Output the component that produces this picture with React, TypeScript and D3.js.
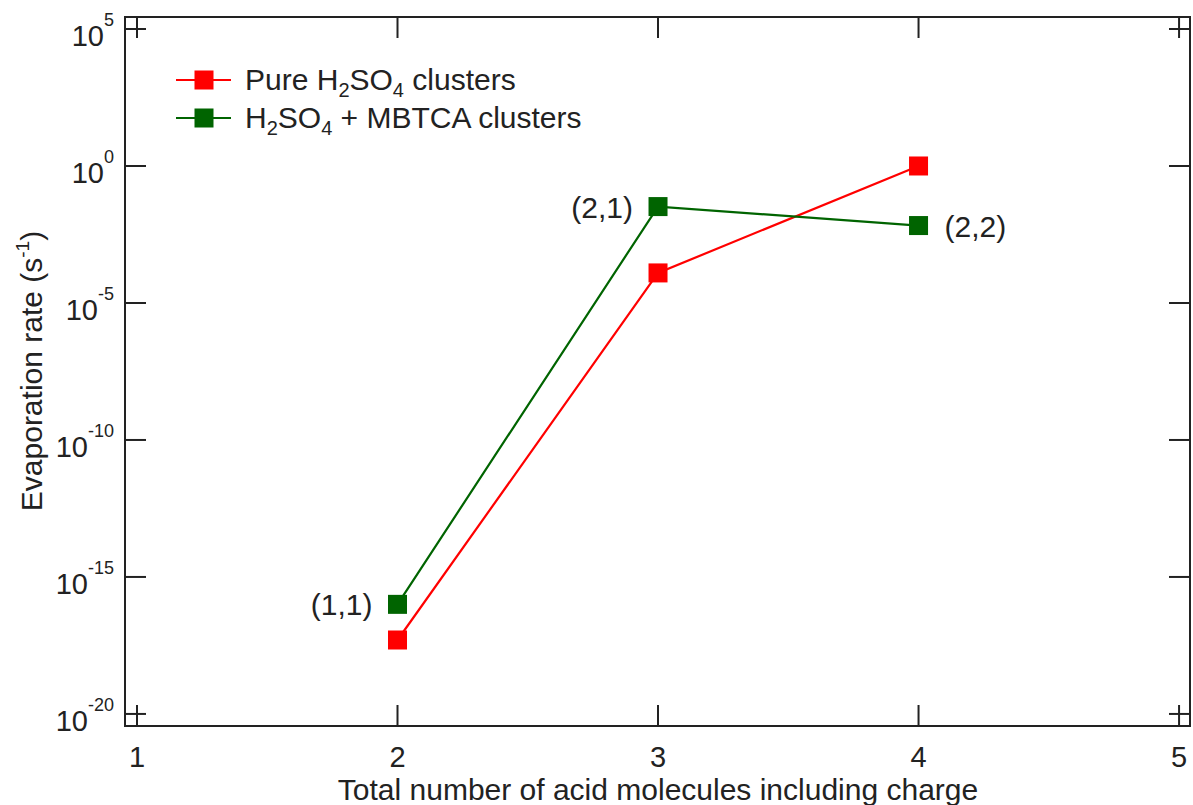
import React from 'react'
import * as d3 from 'd3'

// cluster size (total acid molecules incl. charge)
const xValues = [2, 3, 4]
// evaporation rates, s^-1
const pureRates = [5e-18, 1.25e-4, 1.0]
const mbtcaRates = [1e-16, 3.3e-2, 6.7e-3]
const mbtcaLabels = ['(1,1)', '(2,1)', '(2,2)']

const xTicks = [1, 2, 3, 4, 5]
const yTickExps = [-20, -15, -10, -5, 0, 5]

const W = 1193
const H = 805
const left = 125
const right = 1190
const top = 17
const bottom = 726
const TICK = 21
const FONT = 'Arial, "Liberation Sans", Helvetica, sans-serif'

const RED = '#ff0000'
const GREEN = '#006400'

export default function App() {
  const x = d3.scaleLinear().domain([0.954, 5.042]).range([left, right])
  const y = d3
    .scaleLog()
    .domain([Math.pow(10, -20.44), Math.pow(10, 5.438)])
    .range([bottom, top])

  const line = d3
    .line<number>()
    .x((_, i) => x(xValues[i]))
    .y(d => y(d))

  const series = [
    { name: 'pure', rates: pureRates, color: RED },
    { name: 'mbtca', rates: mbtcaRates, color: GREEN },
  ]

  const sq = 19
  // label offsets: left for first two, right for the last one
  const labelPos = [
    { dx: -25, anchor: 'end' },
    { dx: -25, anchor: 'end' },
    { dx: 26, anchor: 'start' },
  ]

  return (
    <svg
      width={W}
      height={H}
      style={{ position: 'absolute', left: 0, top: 0, background: '#fff' }}
      fontFamily={FONT}
    >
      {/* series */}
      {series.map(s => (
        <g key={s.name}>
          <path d={line(s.rates) || ''} fill="none" stroke={s.color} strokeWidth={2.2} />
          {s.rates.map((v, i) => (
            <rect
              key={i}
              x={x(xValues[i]) - sq / 2}
              y={y(v) - sq / 2}
              width={sq}
              height={sq}
              fill={s.color}
            />
          ))}
        </g>
      ))}

      {/* point labels */}
      {mbtcaLabels.map((t, i) => (
        <text
          key={t}
          x={x(xValues[i]) + labelPos[i].dx}
          y={y(mbtcaRates[i]) + 11}
          fontSize={30}
          textAnchor={labelPos[i].anchor as any}
          fill="#222"
        >
          {t}
        </text>
      ))}

      {/* frame */}
      <rect
        x={left}
        y={top}
        width={right - left}
        height={bottom - top}
        fill="none"
        stroke="#222"
        strokeWidth={2}
      />

      {/* x ticks, bottom and top */}
      {xTicks.map(t => (
        <g key={'x' + t}>
          <line x1={x(t)} x2={x(t)} y1={bottom} y2={bottom - TICK} stroke="#222" strokeWidth={2} />
          <line x1={x(t)} x2={x(t)} y1={top} y2={top + TICK} stroke="#222" strokeWidth={2} />
          <text x={x(t)} y={767} fontSize={29} textAnchor="middle" fill="#222">
            {t}
          </text>
        </g>
      ))}

      {/* y ticks, left and right */}
      {yTickExps.map(e => {
        const yy = y(Math.pow(10, e))
        return (
          <g key={'y' + e}>
            <line x1={left} x2={left + TICK} y1={yy} y2={yy} stroke="#222" strokeWidth={2} />
            <line x1={right} x2={right - TICK} y1={yy} y2={yy} stroke="#222" strokeWidth={2} />
            <text x={114} y={yy + 17} fontSize={29} textAnchor="end" fill="#222">
              10
              <tspan dy={-20} fontSize={18}>
                {e}
              </tspan>
            </text>
          </g>
        )
      })}

      {/* axis titles */}
      <text x={658} y={800} fontSize={30} textAnchor="middle" fill="#222">
        Total number of acid molecules including charge
      </text>
      <text
        transform={`translate(42, 371) rotate(-90)`}
        fontSize={30}
        textAnchor="middle"
        fill="#222"
      >
        Evaporation rate (s
        <tspan dy={-13} fontSize={19}>
          -1
        </tspan>
        <tspan dy={13}>)</tspan>
      </text>

      {/* legend */}
      {series.map((s, i) => {
        const ly = 80 + i * 38
        return (
          <g key={'lg' + s.name}>
            <line x1={176} x2={231} y1={ly} y2={ly} stroke={s.color} strokeWidth={2.2} />
            <rect x={204 - sq / 2} y={ly - sq / 2} width={sq} height={sq} fill={s.color} />
            <text x={245} y={ly + 10} fontSize={30} fill="#222">
              {i === 0 ? (
                <>
                  Pure H<tspan dy={7} fontSize={20}>2</tspan>
                  <tspan dy={-7}>SO</tspan>
                  <tspan dy={7} fontSize={20}>4</tspan>
                  <tspan dy={-7}> clusters</tspan>
                </>
              ) : (
                <>
                  H<tspan dy={7} fontSize={20}>2</tspan>
                  <tspan dy={-7}>SO</tspan>
                  <tspan dy={7} fontSize={20}>4</tspan>
                  <tspan dy={-7}> + MBTCA clusters</tspan>
                </>
              )}
            </text>
          </g>
        )
      })}
    </svg>
  )
}
